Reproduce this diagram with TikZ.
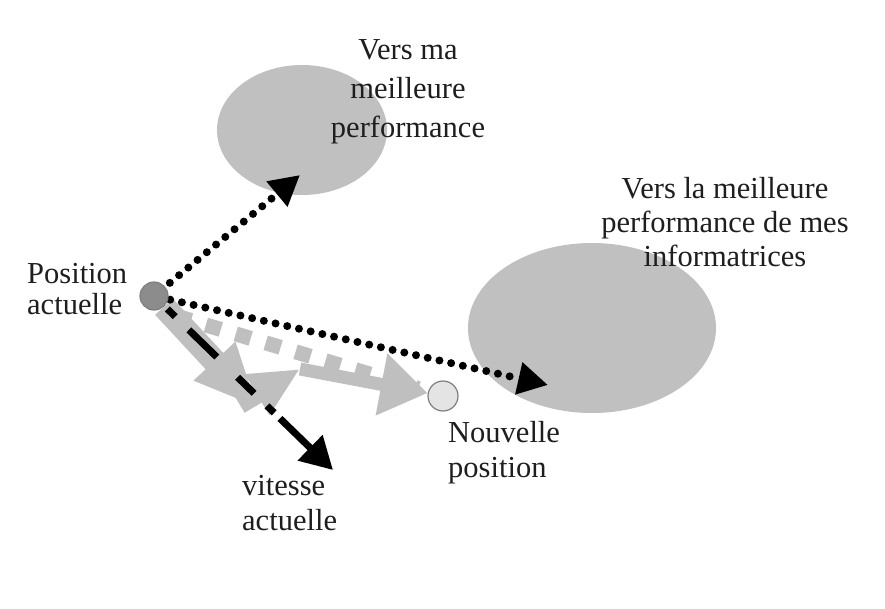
\documentclass[tikz,border=0pt]{standalone}
\usepackage{fontspec}
\setmainfont{Liberation Serif}
\usetikzlibrary{arrows.meta,shapes.geometric}
\definecolor{blobgray}{HTML}{C0C0C0}
\definecolor{arrowgray}{HTML}{BFBFBF}
\definecolor{posdark}{HTML}{8C8C8C}
\definecolor{poslight}{HTML}{E4E4E4}
\definecolor{rimgray}{HTML}{7E7E7E}
\definecolor{inkgray}{HTML}{1E1E1E}
\pgfdeclarelayer{back}
\pgfdeclarelayer{mid}
\pgfsetlayers{back,mid,main}
\begin{document}
\begin{tikzpicture}[x=1pt,y=-1pt,
  blob/.style={ellipse, fill=blobgray, draw=none, inner sep=0pt},
  dotnode/.style={circle, inner sep=0pt, minimum size=28pt, line width=1.2pt},
  lbl/.style={text=inkgray, inner sep=0pt},
  dotted arrow/.style={line width=8pt, line cap=round, dash pattern=on 0pt off 12pt,
    -{Triangle[length=30pt,width=31pt]}},
  grayarrow/.style={draw=arrowgray, line width=#1},
  speedarrow/.style={line width=7pt, shorten <=4pt,
    dash pattern=on 11pt off 19pt on 39pt off 29pt on 23pt off 18pt on 10pt off 8pt on 300pt,
    -{Triangle[length=32pt,width=34pt]}}
]
\useasboundingbox (0,0) rectangle (885,608);

% target regions
\begin{pgfonlayer}{back}
  \fill[white] (0,0) rectangle (885,608);
  \node[blob, minimum width=170pt, minimum height=130pt] (mine) at (302,130) {};
  \node[blob, minimum width=248pt, minimum height=170pt] (theirs) at (592,328) {};
\end{pgfonlayer}

% current and new positions
\node[dotnode, fill=posdark, draw=rimgray] (pos) at (154,296) {};
\node[dotnode, minimum size=30pt, fill=poslight, draw=rimgray] (newpos) at (443,396) {};

% free ends of the arrows
\coordinate (mytip) at (300,175);
\coordinate (theirtip) at (548,385);
\coordinate (speedtip) at (333,470);
\coordinate (atip) at (258,408);
\coordinate (bstart) at (240,405);
\coordinate (btip) at (300,369);
\coordinate (dstart) at (176,316);

\begin{pgfonlayer}{mid}
  % dashed gray component
  \draw[grayarrow=15pt, dash pattern=on 15.6pt off 15.6pt, shorten >=10pt] (dstart) -- (newpos);
  % gray composed moves
  \draw[grayarrow=24pt, -{Triangle[length=64pt,width=52pt]}, arrowgray] (pos) -- (atip);
  \draw[grayarrow=18pt, -{Triangle[length=50pt,width=44pt]}, arrowgray] (bstart) -- (btip);
  \draw[grayarrow=13pt, -{Triangle[length=47pt,width=60pt]}, arrowgray] (btip) -- (newpos);
  % current speed
  \draw[speedarrow, black] (pos) -- (speedtip);
  % towards the best performances
  \draw[dotted arrow, black, shorten <=6pt] (pos) -- (mytip);
  \draw[dotted arrow, black, shorten <=2pt] (pos) -- (theirtip);
\end{pgfonlayer}

% labels (anchored at the baseline of their last line)
\node[lbl, align=center, anchor=base, font=\fontsize{30.5}{39}\selectfont] (tmine) at (408,137)
  {Vers ma\\meilleure\\performance};
\node[lbl, align=center, anchor=base, font=\fontsize{30.5}{34}\selectfont] (ttheirs) at (725,266)
  {Vers la meilleure\\performance de mes\\informatrices};
\node[lbl, align=left, anchor=base west, font=\fontsize{30.5}{31}\selectfont] (tpos) at (27,314)
  {Position\\actuelle};
\node[lbl, align=left, anchor=base west, font=\fontsize{30.5}{35}\selectfont] (tnew) at (448,477)
  {Nouvelle\\position};
\node[lbl, align=left, anchor=base west, font=\fontsize{30.5}{35}\selectfont] (tspeed) at (242,530)
  {vitesse\\actuelle};
\end{tikzpicture}
\end{document}
